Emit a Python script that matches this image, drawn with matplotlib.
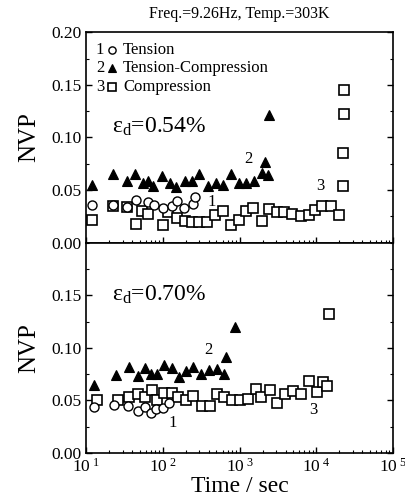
import matplotlib
matplotlib.use("Agg")
import matplotlib.pyplot as plt
from matplotlib.ticker import LogLocator, NullFormatter, MultipleLocator

plt.rcParams['font.family'] = ['Liberation Serif', 'DejaVu Serif']
plt.rcParams['mathtext.fontset'] = 'custom'
plt.rcParams['mathtext.rm'] = 'Liberation Serif'
plt.rcParams['mathtext.it'] = 'Liberation Serif:italic'

title = "Freq.=9.26Hz, Temp.=303K"
series_names = ["Tension", "Tension-Compression", "Compression"]
strain_labels = ["ε$_\\mathrm{d}$=0.54%", "ε$_\\mathrm{d}$=0.70%"]

# ---- upper panel (0.54 %) ----
t1_tension = [12.1, 22.7, 33.9, 44.7, 64.6, 77.6, 100, 131, 151, 191, 245, 263]
v1_tension = [0.036, 0.036, 0.034, 0.041, 0.039, 0.036, 0.033, 0.035, 0.040, 0.033, 0.037, 0.043]

t1_tc = [11.9, 22.7, 33.9, 43.4, 55, 64.6, 75.3, 96.8, 124, 148, 195, 238, 299, 389,
         490, 617, 776, 977, 1230, 1549, 1950, 2138, 2371, 2443]
v1_tc = [0.055, 0.065, 0.059, 0.065, 0.057, 0.059, 0.054, 0.063, 0.057, 0.053, 0.059, 0.059,
         0.065, 0.054, 0.057, 0.055, 0.065, 0.057, 0.057, 0.059, 0.066, 0.077, 0.064, 0.121]

t1_comp = [11.9, 22.7, 33.9, 44.7, 53.2, 64.6, 100, 117, 151, 195, 238, 299, 372, 479,
           617, 776, 977, 1230, 1514, 1950, 2443, 3055, 3802, 4898, 6310, 7943, 9550,
           12020, 15490, 19950, 22130, 22130, 22910, 22910]
v1_comp = [0.022, 0.035, 0.034, 0.018, 0.030, 0.027, 0.017, 0.029, 0.023, 0.021, 0.020,
           0.020, 0.020, 0.026, 0.030, 0.017, 0.022, 0.030, 0.033, 0.021, 0.032, 0.029,
           0.029, 0.027, 0.025, 0.026, 0.031, 0.035, 0.035, 0.026, 0.054, 0.085, 0.122, 0.145]

# ---- lower panel (0.70 %) ----
t2_tension = [12.6, 23.4, 34.7, 46.8, 58.9, 69.7, 81.3, 102, 122]
v2_tension = [0.044, 0.046, 0.045, 0.040, 0.044, 0.038, 0.042, 0.043, 0.048]

t2_tc = [12.8, 24.5, 36.3, 46.8, 58.9, 69.7, 85.1, 104, 131, 162, 200, 245, 316, 398,
         501, 624, 676, 871]
v2_tc = [0.065, 0.074, 0.082, 0.073, 0.081, 0.075, 0.075, 0.084, 0.081, 0.072, 0.078,
         0.082, 0.075, 0.079, 0.080, 0.075, 0.091, 0.120]

t2_comp = [13.8, 25.7, 36.3, 46.8, 58.9, 71.8, 83.2, 104, 131, 158, 200, 251, 324, 417,
           501, 624, 794, 1014, 1279, 1641, 1905, 2512, 3090, 3890, 5012, 6310, 7943,
           10230, 12300, 13650, 14790]
v2_comp = [0.050, 0.050, 0.053, 0.056, 0.053, 0.060, 0.050, 0.057, 0.057, 0.053, 0.050,
           0.054, 0.045, 0.045, 0.056, 0.053, 0.050, 0.050, 0.051, 0.061, 0.053, 0.060,
           0.048, 0.056, 0.059, 0.056, 0.069, 0.058, 0.068, 0.064, 0.132]

# curve number labels (x, y) per panel
curve_tags1 = {"1": (437, 0.039), "2": (1290, 0.080), "3": (11200, 0.054)}
curve_tags2 = {"1": (135, 0.029), "2": (389, 0.098), "3": (9120, 0.041)}

x_ticks = [1e1, 1e2, 1e3, 1e4, 1e5]
x_ticklabels = [r"$10^{\ 1}$", r"$10^{\ 2}$", r"$10^{\ 3}$", r"$10^{\ 4}$", r"$10^{\ 5}$"]

marker_kw = {
    "tension": dict(marker="o", mfc="white", mec="black", ms=6.5, mew=1.0, ls="none"),
    "tc": dict(marker="^", mfc="black", mec="black", ms=6.5, mew=0.8, ls="none"),
    "comp": dict(marker="s", mfc="white", mec="black", ms=7, mew=1.2, ls="none"),
}

fig = plt.figure(figsize=(4.06, 5.04), dpi=100)
gs = fig.add_gridspec(2, 1, left=0.212, right=0.968, top=0.936, bottom=0.101, hspace=0)
ax1 = fig.add_subplot(gs[0])
ax2 = fig.add_subplot(gs[1], sharex=ax1)

panels = [
    (ax1, t1_tension, v1_tension, t1_tc, v1_tc, t1_comp, v1_comp, curve_tags1),
    (ax2, t2_tension, v2_tension, t2_tc, v2_tc, t2_comp, v2_comp, curve_tags2),
]

for ax, tt, vt, ttc, vtc, tc, vc, tags in panels:
    ax.plot(tc, vc, **marker_kw["comp"])
    ax.plot(tt, vt, **marker_kw["tension"])
    ax.plot(ttc, vtc, **marker_kw["tc"])
    for k, (x, y) in tags.items():
        ax.text(x, y, k, fontsize=12, ha="center", va="center")
    ax.set_xscale("log")
    ax.set_xlim(10, 1e5)
    ax.set_ylim(0, 0.20)
    ax.yaxis.set_major_locator(MultipleLocator(0.05))
    ax.yaxis.set_minor_locator(MultipleLocator(0.025))
    ax.xaxis.set_minor_locator(LogLocator(base=10, subs=range(2, 10)))
    ax.xaxis.set_minor_formatter(NullFormatter())
    ax.tick_params(which="both", direction="in", right=True, labelsize=12.5)
    ax.tick_params(which="major", length=4, width=1)
    ax.tick_params(which="minor", length=2.5, width=0.8)
    ax.set_ylabel("NVP", fontsize=18, labelpad=8)
    for s in ax.spines.values():
        s.set_linewidth(1.2)

ax1.set_yticks([0, 0.05, 0.10, 0.15, 0.20])
ax1.set_yticklabels(["0.00", "0.05", "0.10", "0.15", "0.20"])
ax2.set_yticks([0, 0.05, 0.10, 0.15])
ax2.set_yticklabels(["0.00", "0.05", "0.10", "0.15"])
ax1.tick_params(axis="x", labelbottom=False)
ax2.set_xticks(x_ticks)
ax2.set_xticklabels(x_ticklabels)
ax2.set_xlabel("Time / sec", fontsize=17, labelpad=0)

ax1.set_title(title, fontsize=11.5, pad=10, x=0.5)

# hand-made legend in upper panel
legend_y = [0.918, 0.828, 0.738]
legend_keys = ["tension", "tc", "comp"]
for i, (key, name) in enumerate(zip(legend_keys, series_names)):
    y = legend_y[i]
    ax1.text(0.045, y, str(i + 1), transform=ax1.transAxes, fontsize=12, ha="center", va="center")
    kw = dict(marker_kw[key])
    kw["ms"] = kw["ms"] * 0.8
    ax1.plot([0.085], [y], transform=ax1.transAxes, **kw)
    ax1.text(0.12, y, name, transform=ax1.transAxes, fontsize=12, ha="left", va="center")

ax1.text(22, 0.110, strain_labels[0], fontsize=17, ha="left", va="center")
ax2.text(22, 0.150, strain_labels[1], fontsize=17, ha="left", va="center")

fig.savefig("out.png", dpi=100)
